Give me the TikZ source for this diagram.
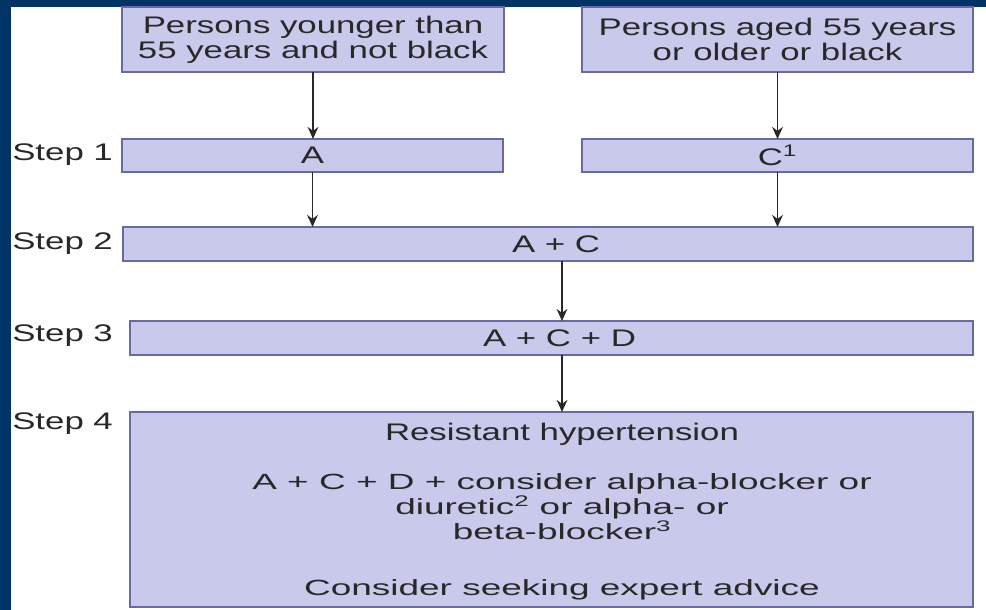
\documentclass[tikz,border=0pt]{standalone}
\usepackage{fontspec}
\setmainfont{Liberation Sans}
\newfontfamily\wideface{Liberation Sans}[FakeStretch=1.45]
\newfontfamily\widerface{Liberation Sans}[FakeStretch=1.68]
\usetikzlibrary{arrows.meta,positioning}
\definecolor{navyband}{RGB}{0,51,102}
\definecolor{boxfill}{RGB}{201,201,236}
\definecolor{boxline}{RGB}{105,105,165}
\definecolor{inktext}{RGB}{40,40,40}
\tikzset{
  stepbox/.style={draw=boxline, fill=boxfill, line width=1.4pt, inner sep=0pt, outer sep=0pt,
    text=inktext, align=center, font=\wideface\fontsize{18}{18.75}\selectfont},
  steplabel/.style={anchor=west, inner sep=0pt, text=inktext, font=\wideface\fontsize{18}{18.75}\selectfont},
  boxtext/.style={inner sep=0pt, text=inktext, align=center, font=\widerface\fontsize{16.5}{15}\selectfont},
  flow/.style={line width=1.3pt, draw=inktext, -{Stealth[length=9pt,width=8pt]}}
}
\begin{document}
\begin{tikzpicture}[x=0.75pt,y=0.75pt,yscale=-1,xscale=1]
\useasboundingbox (0,0) rectangle (986,610);

%Shape: frame
\fill[navyband] (0,0) rectangle (986,7);
\fill[navyband] (0,0) rectangle (11,610);

%Shape: Rectangle (groups)
\node[stepbox, minimum width=286.5pt, minimum height=48.75pt] (young) at (313,39.5)
  {Persons younger than\\55 years and not black};
\node[stepbox, minimum width=293.25pt, minimum height=48.75pt] (old) at (777.5,39.5)
  {Persons aged 55 years\\or older or black};

%Shape: Rectangle (steps)
\node[stepbox, minimum width=285.75pt, minimum height=24.75pt] (stepA) at (312.5,155.5) {A};
\node[stepbox, minimum width=293.25pt, minimum height=24.75pt] (stepC) at (777.5,155.5) {C\textsuperscript{1}};
\node[stepbox, minimum width=637.5pt, minimum height=25.5pt] (stepAC) at (548,244) {\hspace{12pt}A + C};
\node[stepbox, minimum width=632.25pt, minimum height=25.5pt] (stepACD) at (551.5,338) {\hspace{12pt}A + C + D};
\node[stepbox, minimum width=632.25pt, minimum height=146.25pt] (resist) at (551.5,509.5) {};

% Text Node
\node[stepbox, draw=none, fill=none] (resisttitle) at (562,434) {Resistant hypertension};
\node[boxtext] (combo) at (562,507)
  {A + C + D + consider alpha-blocker or\\diuretic\textsuperscript{2} or alpha- or\\beta-blocker\textsuperscript{3}};
\node[boxtext] (advice) at (562,590) {Consider seeking expert advice};

% Text Node (step labels)
\node[steplabel] (lab1) at (12,155) {Step 1};
\node[steplabel] (lab2) at (12,244) {Step 2};
\node[steplabel] (lab3) at (12,336) {Step 3};
\node[steplabel] (lab4) at (12,424) {Step 4};

%Straight Lines
\coordinate (mid) at (562,0);
\draw[flow] (young.south) -- (young.south |- stepA.north);
\draw[flow] (old.south) -- (old.south |- stepC.north);
\draw[flow] (stepA.south) -- (stepA.south |- stepAC.north);
\draw[flow] (stepC.south) -- (stepC.south |- stepAC.north);
\draw[flow] (stepAC.south -| mid) -- (stepACD.north -| mid);
\draw[flow] (stepACD.south -| mid) -- (resist.north -| mid);
\end{tikzpicture}
\end{document}
